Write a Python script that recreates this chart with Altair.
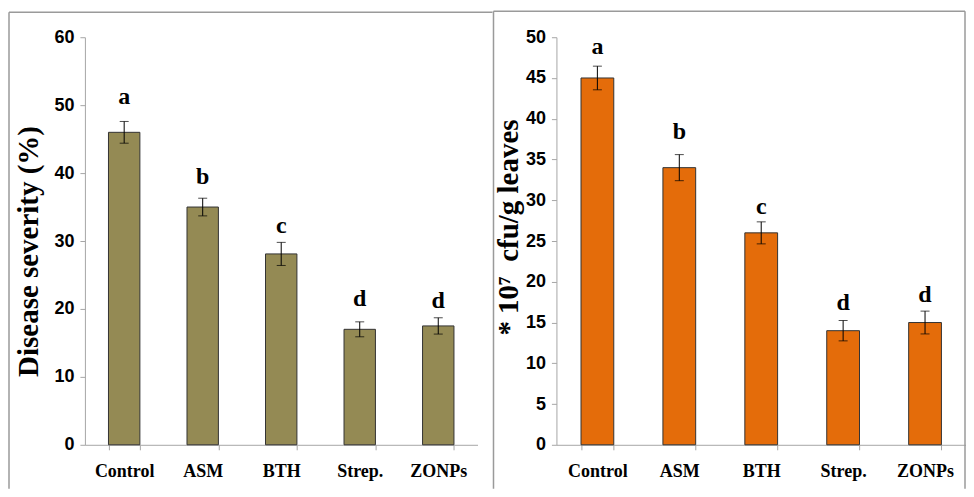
import altair as alt
import pandas as pd

categories = ["Control", "ASM", "BTH", "Strep.", "ZONPs"]

severity = [46.0, 35.0, 28.1, 17.0, 17.5]
severity_err = [1.6, 1.3, 1.7, 1.1, 1.2]
severity_letters = ["a", "b", "c", "d", "d"]
severity_letter_y = [51.2, 39.4, 32.2, 21.5, 21.1]

cfu = [45.0, 34.0, 26.0, 14.0, 15.0]
cfu_err = [1.45, 1.6, 1.35, 1.25, 1.4]
cfu_letters = ["a", "b", "c", "d", "d"]
cfu_letter_y = [48.8, 38.4, 29.2, 17.4, 18.4]

left_ticks = [0, 10, 20, 30, 40, 50, 60]
right_ticks = [0, 5, 10, 15, 20, 25, 30, 35, 40, 45, 50]

SANS = "Liberation Sans"
SERIF = "Liberation Serif"
H = 408


def panel(values, errs, letters, letter_y, color, ymax, ticks, title, width,
          title_pad, title_y, frame):
    df = pd.DataFrame({
        "cat": categories,
        "v": values,
        "lo": [v - e for v, e in zip(values, errs)],
        "hi": [v + e for v, e in zip(values, errs)],
        "lab": letters,
        "ly": letter_y,
    })
    xenc = alt.X("cat:N", sort=categories, title=None,
                 scale=alt.Scale(paddingInner=0.6, paddingOuter=0.3),
                 axis=alt.Axis(labelAngle=0, labelFont=SERIF, labelFontSize=18,
                               labelFontWeight="bold", labelColor="black",
                               labelPadding=13, tickBand="extent", tickSize=5,
                               domainColor="#a6a6a6", tickColor="#a6a6a6",
                               labelBaseline="top"))
    yscale = alt.Scale(domain=[0, ymax], nice=False, zero=True)
    yaxis = alt.Axis(values=ticks, grid=False, title=title, titleFont=SERIF,
                     titleFontSize=29, titleFontWeight="bold", titleColor="black",
                     titlePadding=title_pad, titleY=title_y,
                     labelFont=SANS, labelFontSize=18,
                     labelFontWeight="bold", labelColor="black", labelPadding=6,
                     tickSize=5, domainColor="#a6a6a6", tickColor="#a6a6a6")
    base = alt.Chart(df)
    bars = base.mark_bar(color=color, stroke="#333333", strokeWidth=1).encode(
        x=xenc, y=alt.Y("v:Q", scale=yscale, axis=yaxis))
    err = base.mark_rule(color="black", strokeWidth=1).encode(
        x=alt.X("cat:N", sort=categories), y="lo:Q", y2="hi:Q")
    cap_lo = base.mark_tick(color="black", thickness=1, size=9,
                            orient="horizontal").encode(
        x=alt.X("cat:N", sort=categories), y="lo:Q")
    cap_hi = base.mark_tick(color="black", thickness=1, size=9,
                            orient="horizontal").encode(
        x=alt.X("cat:N", sort=categories), y="hi:Q")
    text = base.mark_text(font=SERIF, fontSize=24, fontWeight="bold",
                          color="black", baseline="middle").encode(
        x=alt.X("cat:N", sort=categories), y="ly:Q", text="lab:N")
    one = alt.Data(values=[{"k": 1}])
    fl, ft, fr, fb = frame
    frames = [
        alt.Chart(one).mark_rule(color="#9a9a9a", strokeWidth=1.5).encode(
            x=alt.value(fl), x2=alt.value(fr), y=alt.value(ft)),
        alt.Chart(one).mark_rule(color="#9a9a9a", strokeWidth=1.5).encode(
            x=alt.value(fl), y=alt.value(ft), y2=alt.value(fb)),
    ]
    if fr < width:
        frames.append(alt.Chart(one).mark_rule(color="#9a9a9a", strokeWidth=1.5).encode(
            x=alt.value(fr), y=alt.value(ft), y2=alt.value(fb)))
    return alt.layer(bars, err, cap_lo, cap_hi, text, *frames).properties(
        width=width, height=H)


left = panel(severity, severity_err, severity_letters, severity_letter_y,
             "#948a54", 60, left_ticks, "Disease severity (%)", 393, 10, 214,
             (-76, -25, 408, 452))
right = panel(cfu, cfu_err, cfu_letters, cfu_letter_y,
              "#e46c0a", 50, right_ticks,
              "*\u00a010\u2077\u00a0\u00a0cfu/g\u00a0leaves", 410, 2, 190,
              (-63, -26, 409, 452))

chart = alt.hconcat(left, right, spacing=79, bounds="flush").properties(
    padding={"left": 0, "top": 2, "right": 0, "bottom": 0}
).configure_view(stroke=None)

chart.save("out.html", embed_options={"renderer": "svg", "actions": False})
